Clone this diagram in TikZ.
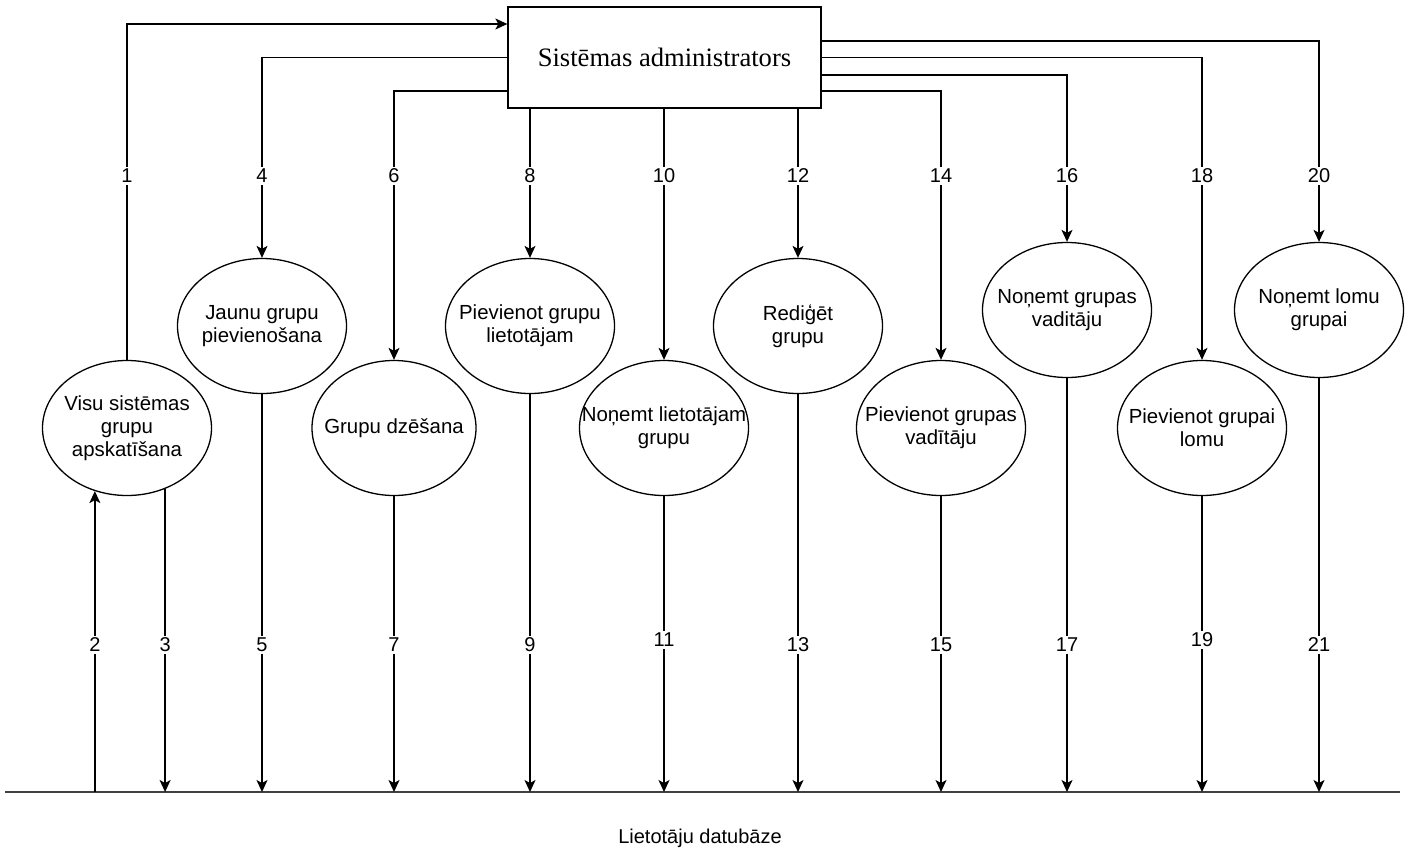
\documentclass[tikz,border=0pt]{standalone}
\usepackage{fontspec}
\setmainfont{Liberation Sans}
\newfontfamily\titlefont{Liberation Serif}
\usetikzlibrary{arrows.meta,shapes.geometric}

\tikzset{
	flow/.style={line width=0.65pt,-{Stealth[length=6pt,width=5.5pt,inset=1.5pt]}},
	process/.style={draw,line width=0.65pt,ellipse,inner xsep=-15pt,inner ysep=-12pt,minimum width=84.5pt,minimum height=67.5pt,align=center,font=\fontsize{10.2}{11.4}\selectfont},
	num/.style={fill=white,inner sep=1.2pt,font=\fontsize{10}{12}\selectfont},
	actor/.style={draw,line width=0.65pt,minimum width=156.5pt,minimum height=50.5pt,inner sep=0pt,font=\titlefont\fontsize{13.3}{15}\selectfont}
}

\begin{document}
\begin{tikzpicture}[x=0.5pt,y=-0.5pt]
			\useasboundingbox (0,0) rectangle (1414,852);
			\node[actor] (admin) at (664.5,57.5) {Sistēmas administrators};
			\node[process] (p1) at (127,428) {Visu sistēmas\\grupu\\apskatīšana};
			\node[process] (p4) at (262,326) {Jaunu grupu\\pievienošana};
			\node[process,minimum width=82pt] (p6) at (394,428) {Grupu dzēšana};
			\node[process] (p8) at (530,326) {Pievienot grupu\\lietotājam};
			\node[process] (p10) at (664,428) {Noņemt lietotājam\\grupu};
			\node[process] (p12) at (798,326) {Rediģēt\\grupu};
			\node[process] (p14) at (941,428) {Pievienot grupas\\vadītāju};
			\node[process] (p16) at (1067,310) {Noņemt grupas\\vaditāju};
			\node[process] (p18) at (1202,428) {Pievienot grupai\\lomu};
			\node[process] (p20) at (1319,310) {Noņemt lomu\\grupai};
			\coordinate (dbl) at (5,792);
			\coordinate (dbr) at (1400,792);
			\coordinate (uprow) at (0,176);
			\coordinate (lowrow) at (0,645);
			\draw[line width=1.1pt,black!75] (dbl) -- (dbr);
			\node[font=\fontsize{10}{12}\selectfont] (dbname) at (700,838) {Lietotāju datubāze};
			\draw[flow] (p1.north) |- ([yshift=16.75pt]admin.west);
			\draw[flow] (p1.243 |- dbl) -- (p1.243);
			\draw[flow] (p1.302) -- (p1.302 |- dbl);
			\draw[flow] (admin.west) -| (p4.north);
			\draw[flow] ([yshift=-16.75pt]admin.west) -| (p6.north);
			\draw[flow] (admin.south -| p8) -- (p8.north);
			\draw[flow] (admin.south -| p10) -- (p10.north);
			\draw[flow] (admin.south -| p12) -- (p12.north);
			\draw[flow] ([yshift=-16.75pt]admin.east) -| (p14.north);
			\draw[flow] ([yshift=-8.75pt]admin.east) -| (p16.north);
			\draw[flow] (admin.east) -| (p18.north);
			\draw[flow] ([yshift=8.25pt]admin.east) -| (p20.north);
			\draw[flow] (p4.south) -- (p4.south |- dbl);
			\draw[flow] (p6.south) -- (p6.south |- dbl);
			\draw[flow] (p8.south) -- (p8.south |- dbl);
			\draw[flow] (p10.south) -- (p10.south |- dbl);
			\draw[flow] (p12.south) -- (p12.south |- dbl);
			\draw[flow] (p14.south) -- (p14.south |- dbl);
			\draw[flow] (p16.south) -- (p16.south |- dbl);
			\draw[flow] (p18.south) -- (p18.south |- dbl);
			\draw[flow] (p20.south) -- (p20.south |- dbl);
			\node[num] (n1) at (p1 |- uprow) {1};
			\node[num] (n4) at (p4 |- uprow) {4};
			\node[num] (n6) at (p6 |- uprow) {6};
			\node[num] (n8) at (p8 |- uprow) {8};
			\node[num] (n10) at (p10 |- uprow) {10};
			\node[num] (n12) at (p12 |- uprow) {12};
			\node[num] (n14) at (p14 |- uprow) {14};
			\node[num] (n16) at (p16 |- uprow) {16};
			\node[num] (n18) at (p18 |- uprow) {18};
			\node[num] (n20) at (p20 |- uprow) {20};
			\node[num] (n2) at (p1.243 |- lowrow) {2};
			\node[num] (n3) at (p1.302 |- lowrow) {3};
			\node[num] (n5) at (p4 |- lowrow) {5};
			\node[num] (n7) at (p6 |- lowrow) {7};
			\node[num] (n9) at (p8 |- lowrow) {9};
			\node[num,yshift=2.5pt] (n11) at (p10 |- lowrow) {11};
			\node[num] (n13) at (p12 |- lowrow) {13};
			\node[num] (n15) at (p14 |- lowrow) {15};
			\node[num] (n17) at (p16 |- lowrow) {17};
			\node[num,yshift=2.5pt] (n19) at (p18 |- lowrow) {19};
			\node[num] (n21) at (p20 |- lowrow) {21};
		\end{tikzpicture}
\end{document}
